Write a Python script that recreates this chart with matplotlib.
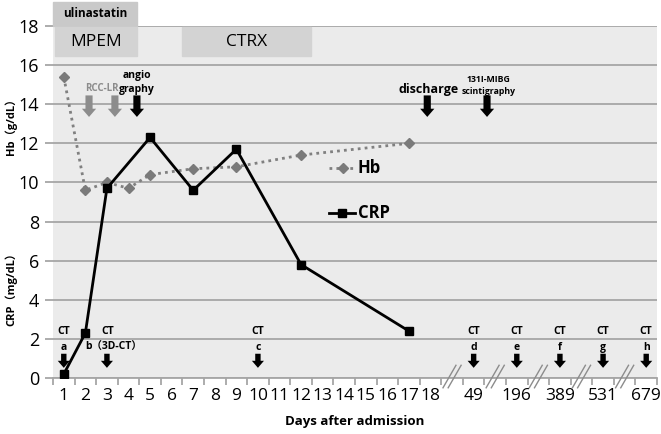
import matplotlib
matplotlib.use("Agg")
import matplotlib.pyplot as plt
from matplotlib.patches import FancyArrow, Rectangle
from matplotlib.lines import Line2D

plt.rcParams['font.family'] = ['Open Sans', 'Noto Sans CJK JP', 'DejaVu Sans']

# ---- data ----
x_labels = ['1', '2', '3', '4', '5', '6', '7', '8', '9', '10', '11', '12', '13', '14',
            '15', '16', '17', '18', '', '49', '', '196', '', '389', '', '531', '', '679']
hb_days = [1, 2, 3, 4, 5, 7, 9, 12, 17]
hb_values = [15.4, 9.6, 10.0, 9.7, 10.4, 10.7, 10.8, 11.4, 12.0]
crp_days = [1, 2, 3, 5, 7, 9, 12, 17]
crp_values = [0.2, 2.3, 9.7, 12.3, 9.6, 11.7, 5.8, 2.4]
ct_labels = ['a', 'b（3D-CT）', 'c', 'd', 'e', 'f', 'g', 'h']
ct_slots = [0, 2, 9, 19, 21, 23, 25, 27]
break_slots = [18, 20, 22, 24, 26]

fig = plt.figure(figsize=(6.61, 4.34), dpi=100)
ax = fig.add_axes([53/661, 1-378/434, 604/661, 352/434])
ax.set_facecolor('#ebebeb')
ax.set_xlim(-0.5, len(x_labels)-0.5)
ax.set_ylim(0, 18)

ax.set_yticks(range(0, 19, 2))
ax.yaxis.grid(True, color='#a6a6a6', lw=1.3)
ax.set_axisbelow(True)
for s in ['top', 'right', 'left']:
    ax.spines[s].set_visible(False)
ax.spines['bottom'].set_color('#a6a6a6')
ax.spines['bottom'].set_linewidth(1.3)
ax.tick_params(axis='y', length=6, color='#a6a6a6', width=1.3, labelsize=13, pad=4)

# x ticks: labels at centers, tick marks at boundaries
ax.set_xticks(range(len(x_labels)))
ax.set_xticklabels(x_labels, fontsize=12.5)
ax.set_xticks([i-0.5 for i in range(len(x_labels)+1)], minor=True)
ax.tick_params(axis='x', which='major', length=0, pad=7)
ax.tick_params(axis='x', which='minor', length=5, color='#a6a6a6', width=1.3)

hx = [d-1 for d in hb_days]
cx = [d-1 for d in crp_days]
ax.plot(hx, hb_values, color='#808080', lw=2, ls=(0, (1, 1.5)), marker='D',
        ms=5, mfc='#7a7a7a', mec='#7a7a7a', zorder=3)
ax.plot(cx, crp_values, color='black', lw=2, marker='s', ms=5.5, zorder=4)

# legend-like labels
ax.plot([12.3, 13.5], [10.75, 10.75], color='#808080', lw=2, ls=(0, (1, 1.5)), zorder=3)
ax.plot([12.95], [10.75], marker='D', ms=5, color='#7a7a7a', zorder=3)
ax.text(13.62, 10.75, 'Hb', fontsize=12, fontweight='bold', va='center', ha='left')
ax.plot([12.3, 13.5], [8.45, 8.45], color='black', lw=2, zorder=3)
ax.plot([12.9], [8.45], marker='s', ms=5.5, color='black', zorder=3)
ax.text(13.62, 8.45, 'CRP', fontsize=12, fontweight='bold', va='center', ha='left')

# drug bars
ax.add_patch(Rectangle((-0.5, 18.0), 3.9, 1.25, color='#c9c9c9', clip_on=False, zorder=1))
ax.text(1.45, 18.62, 'ulinastatin', fontsize=8.5, fontweight='bold', ha='center', va='center')
ax.add_patch(Rectangle((-0.42, 16.48), 3.82, 1.47, color='#d3d3d3', zorder=1))
ax.text(1.5, 17.2, 'MPEM', fontsize=12.5, ha='center', va='center')
ax.add_patch(Rectangle((5.48, 16.48), 5.98, 1.47, color='#d3d3d3', zorder=1))
ax.text(8.47, 17.2, 'CTRX', fontsize=12.5, ha='center', va='center')


def down_arrow(x, ytop, ybot, color, shaft, head, hl):
    ax.add_patch(FancyArrow(x, ytop, 0, ybot-ytop, width=shaft, head_width=head,
                            head_length=hl, length_includes_head=True,
                            color=color, zorder=5, lw=0))


# top arrows
for xa, col in [(1.17, '#8c8c8c'), (2.37, '#8c8c8c'), (3.39, 'black'),
                (16.85, 'black'), (19.62, 'black')]:
    down_arrow(xa, 14.45, 13.35, col, shaft=0.33, head=0.66, hl=0.42)
ax.text(1.75, 14.8, 'RCC-LR', fontsize=7, fontweight='bold', color='#8c8c8c', ha='center', va='center')
ax.text(3.39, 15.45, 'angio', fontsize=7.5, fontweight='bold', ha='center', va='center')
ax.text(3.39, 14.75, 'graphy', fontsize=7.5, fontweight='bold', ha='center', va='center')
ax.text(16.9, 14.75, 'discharge', fontsize=9, fontweight='bold', ha='center', va='center')
ax.text(19.7, 15.25, '131I-MIBG', fontsize=6.3, fontweight='bold', ha='center', va='center')
ax.text(19.7, 14.65, 'scintigraphy', fontsize=6.3, fontweight='bold', ha='center', va='center')

# CT arrows
for s, lab in zip(ct_slots, ct_labels):
    down_arrow(s, 1.24, 0.52, 'black', shaft=0.25, head=0.56, hl=0.36)
    ax.text(s + (0.05 if s == 2 else 0), 2.4, 'CT', fontsize=7.5, fontweight='bold', ha='center', va='center')
    if s == 2:
        ax.text(1.0, 1.58, lab, fontsize=7.5, fontweight='bold', ha='left', va='center')
    else:
        ax.text(s, 1.58, lab, fontsize=7.5, fontweight='bold', ha='center', va='center')

# axis breaks
for b in break_slots:
    for dx in (-0.12, 0.12):
        ax.add_line(Line2D([b-0.3+dx, b+0.3+dx], [-0.5, 0.65], color='#8c8c8c', lw=1,
                           clip_on=False, zorder=6))

fig.text(11/661, 1-287/434, 'CRP（mg/dL）', fontsize=8, fontweight='bold', rotation=90,
         ha='center', va='center')
fig.text(11/661, 1-124/434, 'Hb（g/dL）', fontsize=8, fontweight='bold', rotation=90,
         ha='center', va='center')
ax.set_xlabel('Days after admission', fontsize=9.5, fontweight='bold', labelpad=8)

fig.savefig('out.png', dpi=100)
